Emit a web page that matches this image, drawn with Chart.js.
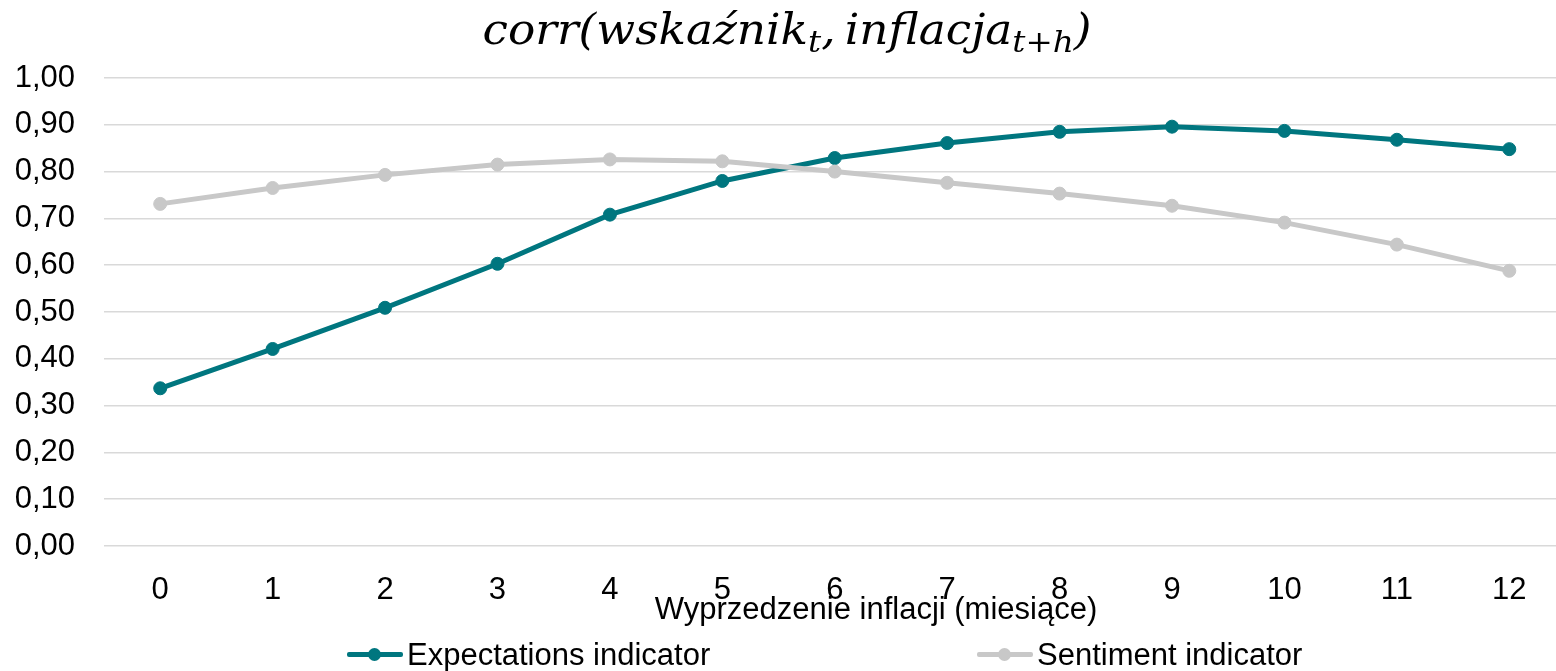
<!DOCTYPE html>
<html><head><meta charset="utf-8">
<script src="https://cdn.jsdelivr.net/npm/chart.js@4.4.1/dist/chart.umd.min.js"></script>
<style>
html,body{margin:0;padding:0;background:#fff;overflow:hidden}
#wrap{position:relative;width:1556px;height:671px;overflow:hidden;background:#fff}
canvas{position:absolute;left:0;top:0}
.t{position:absolute;white-space:nowrap;color:#000;font-family:'Liberation Sans',Arial,sans-serif;font-size:31px;line-height:31px}
#title{position:absolute;white-space:nowrap;color:#000;font-family:'DejaVu Serif',serif;font-style:italic;font-size:42px;line-height:42px;left:787px;top:9px;transform-origin:50% 50%}
#title sub{font-size:0.72em;vertical-align:baseline;position:relative;top:8px;line-height:0}
.ln{position:absolute;height:5px;border-radius:2px}
.dot{position:absolute;width:13px;height:13px;border-radius:50%}
</style>
</head><body>
<div id="wrap">
<canvas id="c" width="1573" height="671"></canvas>
<div id="title">corr(wskaźnik<sub>t</sub>,&#8201;inflacja<sub>t+h</sub>)</div>
<div class="t" id="xtitle" style="left:876px;top:593px;transform:translateX(-50%)">Wyprzedzenie inflacji (miesiące)</div>
<div class="ln" style="left:347px;top:652px;width:56px;background:#00767F"></div>
<div class="dot" style="left:368px;top:648px;background:#00767F"></div>
<div class="t" style="left:407px;top:639px">Expectations indicator</div>
<div class="ln" style="left:977px;top:652px;width:56px;background:#C8C8C8"></div>
<div class="dot" style="left:998px;top:648px;background:#C8C8C8"></div>
<div class="t" style="left:1037px;top:639px">Sentiment indicator</div>
</div>
<script>
const categories = ['0','1','2','3','4','5','6','7','8','9','10','11','12'];
const expectations = [0.337,0.421,0.509,0.603,0.708,0.780,0.829,0.861,0.885,0.896,0.887,0.868,0.848];
const sentiment = [0.731,0.765,0.793,0.815,0.826,0.822,0.800,0.776,0.753,0.727,0.691,0.644,0.588];
const yTicks = [0,0.1,0.2,0.3,0.4,0.5,0.6,0.7,0.8,0.9,1.0];
const seriesNames = ['Expectations indicator','Sentiment indicator'];
const TEAL = '#00767F', GRAY = '#C8C8C8';
const tickFont = {family:"'Liberation Sans', Arial, sans-serif", size:31};

// fit title width to reference span
const tEl = document.getElementById('title');
const tw = tEl.getBoundingClientRect().width;
tEl.style.transform = 'translateX(-50%) scaleX(' + (609 / tw).toFixed(4) + ')';

new Chart(document.getElementById('c'), {
  type:'line',
  data:{
    labels:categories,
    datasets:[
      {label:seriesNames[0], data:expectations, borderColor:TEAL, backgroundColor:TEAL,
       pointBackgroundColor:TEAL, pointBorderColor:TEAL, borderWidth:5, pointRadius:6.5, pointBorderWidth:1, tension:0, order:1},
      {label:seriesNames[1], data:sentiment, borderColor:GRAY, backgroundColor:GRAY,
       pointBackgroundColor:GRAY, pointBorderColor:GRAY, borderWidth:5, pointRadius:6.5, pointBorderWidth:1, tension:0, order:0}
    ]
  },
  options:{
    responsive:false, animation:false, devicePixelRatio:1,
    layout:{padding:{top:78,right:1,left:0,bottom:0}},
    plugins:{legend:{display:false}, title:{display:false}, tooltip:{enabled:false}},
    scales:{
      x:{type:'category', offset:true,
         grid:{display:false, drawTicks:false}, border:{display:false},
         ticks:{font:tickFont, color:'#000', padding:26, maxRotation:0, autoSkip:false},
         afterFit:s=>{s.height=125;}},
      y:{min:0,max:1,
         afterBuildTicks:s=>{s.ticks = yTicks.map(v=>({value:v}));},
         grid:{color:'#D9D9D9', lineWidth:1.5, drawTicks:false}, border:{display:false},
         ticks:{font:tickFont, color:'#000', padding:29, callback:v=>Number(v).toFixed(2).replace('.',',')},
         afterFit:s=>{s.width=104;}}
    }
  }
});
</script>
</body></html>
